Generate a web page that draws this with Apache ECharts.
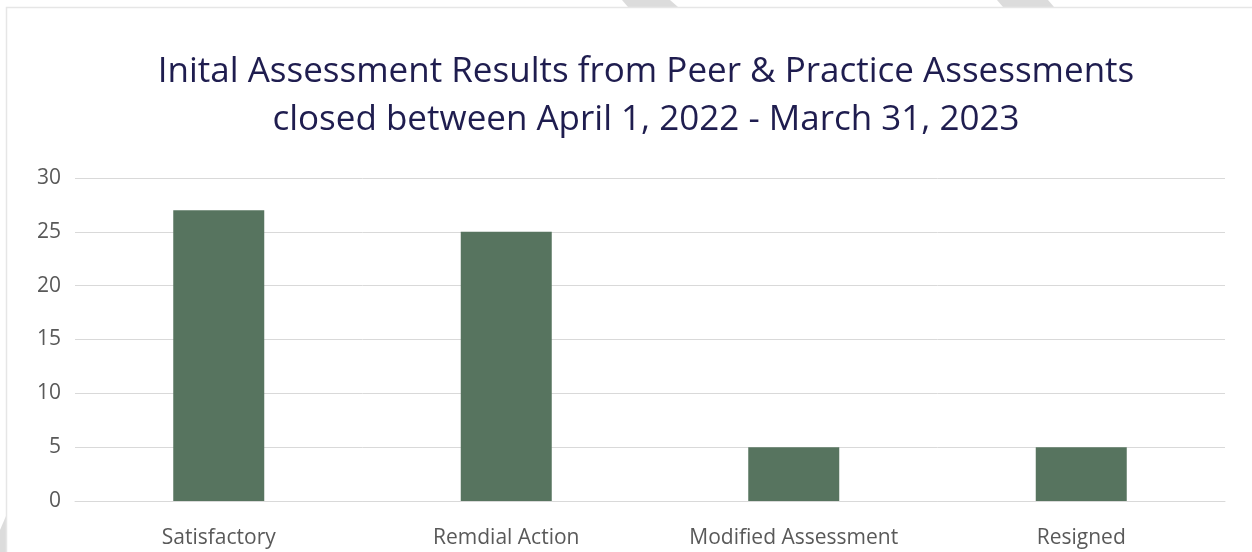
<!DOCTYPE html>
<html>
<head>
<meta charset="utf-8">
<script src="https://cdn.jsdelivr.net/npm/echarts@6/dist/echarts.min.js"></script>
<style>
html,body{margin:0;padding:0;background:#fff;}
#chart{width:1252px;height:552px;}
</style>
</head>
<body>
<div id="chart"></div>
<script>
var categories = ['Satisfactory', 'Remdial Action', 'Modified Assessment', 'Resigned'];
var values = [27, 25, 5, 5];
var titleLines = ['Inital Assessment Results from Peer & Practice Assessments', 'closed between April 1, 2022 - March 31, 2023'];

var chart = echarts.init(document.getElementById('chart'));
chart.setOption({
  backgroundColor: '#ffffff',
  animation: false,
  title: {
    text: titleLines.join('\n'),
    left: 641,
    textAlign: 'center',
    top: 43,
    textStyle: {
      fontFamily: 'Open Sans',
      fontSize: 35,
      fontWeight: 'normal',
      color: '#1F1D4F',
      lineHeight: 48
    }
  },
  graphic: [
    { type: 'polygon', silent: true, z: -1, shape: { points: [[622,0],[670,0],[678,7],[628,7]] }, style: { fill: '#DCDCDC' } },
    { type: 'polygon', silent: true, z: -1, shape: { points: [[997,0],[1048,0],[1054,7],[1003,7]] }, style: { fill: '#DCDCDC' } },
    { type: 'polygon', silent: true, z: -1, shape: { points: [[0,552],[0,530],[6,516],[6,552]] }, style: { fill: '#DCDCDC' } },
    { type: 'polyline', silent: true, shape: { points: [[6.5,552],[6.5,7.5],[1252,7.5]] }, style: { stroke: '#E6E6E6', lineWidth: 1.5, fill: null } }
  ],
  grid: { left: 75, right: 27, top: 178, bottom: 51 },
  xAxis: {
    type: 'category',
    data: categories,
    axisLine: { show: true, lineStyle: { color: '#D9D9D9', width: 1 } },
    axisTick: { show: false },
    axisLabel: { color: '#595959', fontSize: 21, fontFamily: 'Open Sans', margin: 27 }
  },
  yAxis: {
    type: 'value',
    min: 0, max: 30, interval: 5,
    axisLine: { show: false },
    axisTick: { show: false },
    splitLine: { lineStyle: { color: '#D9D9D9', width: 1 } },
    axisLabel: { color: '#595959', fontSize: 21, fontFamily: 'Open Sans', margin: 14 }
  },
  series: [{
    type: 'bar',
    data: values,
    barWidth: 91,
    itemStyle: { color: '#57745F' }
  }]
});
</script>
</body>
</html>
